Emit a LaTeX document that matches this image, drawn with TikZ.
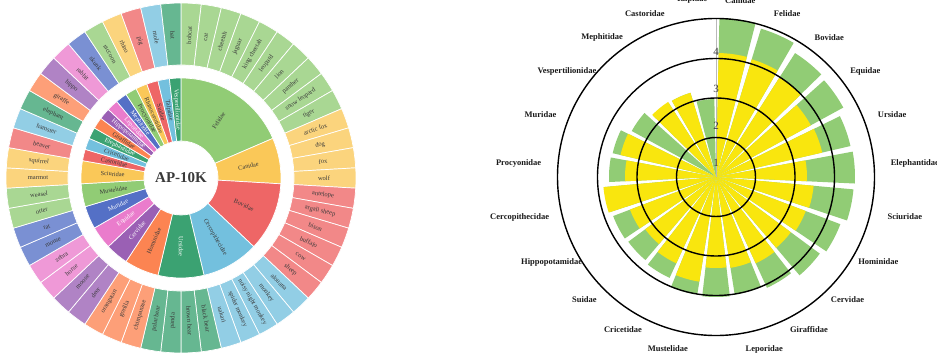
\documentclass[tikz,border=0pt]{standalone}
\usepackage{fontspec}
\setmainfont{Liberation Serif}
\definecolor{p0}{HTML}{5470C6}
\definecolor{p1}{HTML}{91CC75}
\definecolor{p2}{HTML}{FAC858}
\definecolor{p3}{HTML}{EE6666}
\definecolor{p4}{HTML}{73C0DE}
\definecolor{p5}{HTML}{3BA272}
\definecolor{p6}{HTML}{FC8452}
\definecolor{p7}{HTML}{9A60B4}
\definecolor{p8}{HTML}{EA7CCC}
\definecolor{barGreen}{HTML}{91CC75}
\definecolor{barYellow}{HTML}{F9E60E}
\definecolor{txt}{HTML}{3A3A3A}
\tikzset{
  seg/.style={draw=white, line width=0.7},
  famlbl/.style={font=\fontsize{6.3}{6.3}\selectfont, inner sep=0},
  splbl/.style={font=\fontsize{6.5}{6.5}\selectfont, text=txt, inner sep=0},
  polarlbl/.style={font=\fontsize{8.5}{8.5}\selectfont\bfseries, text=black!90, inner sep=1},
  ticklbl/.style={font=\fontsize{11}{11}\selectfont, text=black!75, inner sep=0},
  ring/.style={draw=black, line width=1.4}
}
\begin{document}
\begin{tikzpicture}[x=1pt,y=1pt]
\useasboundingbox (0,0) rectangle (937,354);
\fill[white] (0,0) rectangle (937,354);
% ---------------- left: sunburst ----------------
\begin{scope}[shift={(181,176)}]
\foreach \name/\s/\n/\c/\tcol in {Felidae/0/10/p1/txt, Canidae/10/4/p2/txt, Bovidae/14/6/p3/txt, Cercopithecidae/20/5/p4/txt, Ursidae/25/4/p5/white, Hominidae/29/3/p6/txt, Cervidae/32/2/p7/white, Equidae/34/2/p8/white, Muridae/36/2/p0/white, Mustelidae/38/2/p1/txt, Sciuridae/40/2/p2/txt, Castoridae/42/1/p3/txt, Cricetidae/43/1/p4/txt, Elephantidae/44/1/p5/white, Giraffidae/45/1/p6/txt, Hippopotamidae/46/1/p7/white, Leporidae/47/1/p8/white, Mephitidae/48/1/p0/white, Procyonidae/49/1/p1/txt, Rhinocerotidae/50/1/p2/txt, Suidae/51/1/p3/txt, Talpidae/52/1/p4/txt, Vespertilionidae/53/1/p5/white}
{
  \pgfmathsetmacro\aA{90-\s*6.66667}
  \pgfmathsetmacro\aB{90-(\s+\n)*6.66667}
  \pgfmathsetmacro\aM{(\aA+\aB)/2}
  \pgfmathsetmacro\rot{\aM+180*(cos(\aM)<-0.001)}
  \fill[\c, seg] (\aA:37) -- (\aA:100) arc[start angle=\aA, end angle=\aB, radius=100] -- (\aB:37) arc[start angle=\aB, end angle=\aA, radius=37] -- cycle;
  \node[famlbl, text=\tcol, rotate=\rot] (fam\s) at (\aM:68.5) {\name};
}
\foreach \sp/\c [count=\i from 0] in {bobcat/p1, cat/p1, cheetah/p1, jaguar/p1, king cheetah/p1, leopard/p1, lion/p1, panther/p1, snow leopard/p1, tiger/p1, arctic fox/p2, dog/p2, fox/p2, wolf/p2, antelope/p3, argali sheep/p3, bison/p3, buffalo/p3, cow/p3, sheep/p3, alouatta/p4, monkey/p4, noisy night monkey/p4, spider monkey/p4, uakari/p4, black bear/p5, brown bear/p5, panda/p5, polar bear/p5, chimpanzee/p6, gorilla/p6, orangutan/p6, deer/p7, moose/p7, horse/p8, zebra/p8, mouse/p0, rat/p0, otter/p1, weasel/p1, marmot/p2, squirrel/p2, beaver/p3, hamster/p4, elephant/p5, giraffe/p6, hippo/p7, rabbit/p8, skunk/p0, raccoon/p1, rhino/p2, pig/p3, mole/p4, bat/p5}
{
  \pgfmathsetmacro\aA{90-\i*6.66667}
  \pgfmathsetmacro\aB{90-(\i+1)*6.66667}
  \pgfmathsetmacro\aM{(\aA+\aB)/2}
  \pgfmathsetmacro\rot{\aM+180*(cos(\aM)<-0.001)}
  \fill[\c!78!white, seg] (\aA:113) -- (\aA:175) arc[start angle=\aA, end angle=\aB, radius=175] -- (\aB:113) arc[start angle=\aB, end angle=\aA, radius=113] -- cycle;
  \node[splbl, rotate=\rot] (sp\i) at (\aM:143) {\sp};
}
\node[font=\fontsize{15}{15}\selectfont\bfseries, text=txt] (title) at (0,0) {AP-10K};
\end{scope}
% ---------------- right: polar bars ----------------
\begin{scope}[shift={(716,177)}]
\foreach \k/\g in {0/159, 1/155, 2/147, 3/145, 4/138, 5/139, 6/138, 7/133, 8/129, 9/122, 10/119, 11/120, 12/119, 13/111, 14/109, 15/110, 16/112, 17/107, 18/106, 19/96, 20/88, 21/88, 22/78}
{
  \pgfmathsetmacro\tcen{90-15.6522*(\k+0.5)}
  \pgfmathsetmacro\tA{\tcen+6.6}
  \pgfmathsetmacro\tB{\tcen-6.6}
  \fill[barGreen] (0,0) -- (\tA:\g) arc[start angle=\tA, end angle=\tB, radius=\g] -- cycle;
}
\foreach \k/\yv in {0/124, 1/123, 2/118, 3/108, 4/109, 5/91, 6/98, 7/96, 8/93, 9/95, 10/92, 11/91, 12/106, 13/95, 14/88, 15/92, 16/113, 17/91, 18/98, 20/89, 21/88}
{
  \pgfmathsetmacro\tcen{90-15.6522*(\k+0.5)}
  \pgfmathsetmacro\tA{\tcen+6.6}
  \pgfmathsetmacro\tB{\tcen-6.6}
  \fill[barYellow] (0,0) -- (\tA:\yv) arc[start angle=\tA, end angle=\tB, radius=\yv] -- cycle;
}
\coordinate (pc) at (0,0);
\coordinate (ptop) at (90:158.5);
\draw[gray!55, line width=0.6] (pc) -- (ptop);
\foreach \r in {39.5, 79, 118.5, 158.5}
  \draw[ring] (pc) circle[radius=\r];
\node[ticklbl] (t1) at (0,14) {1};
\node[ticklbl] (t2) at (0,51) {2};
\node[ticklbl] (t3) at (0,88) {3};
\node[ticklbl] (t4) at (0,125) {4};
\foreach \k/\nm in {0/Canidae, 1/Felidae, 2/Bovidae, 3/Equidae, 4/Ursidae, 5/Elephantidae, 6/Sciuridae, 7/Hominidae, 8/Cervidae, 9/Giraffidae, 10/Leporidae, 12/Mustelidae, 13/Cricetidae, 14/Suidae, 15/Hippopotamidae, 16/Cercopithecidae, 17/Procyonidae, 18/Muridae, 19/Vespertilionidae, 20/Mephitidae, 21/Castoridae, 22/Talpidae}
{
  \pgfmathsetmacro\tcen{90-15.6522*(\k+0.5)}
  \pgfmathtruncatemacro\an{\tcen+180+360*(\tcen<-180)}
  \node[polarlbl, anchor=\an] (lab\k) at (\tcen:174) {\nm};
}
\end{scope}
\end{tikzpicture}
\end{document}
